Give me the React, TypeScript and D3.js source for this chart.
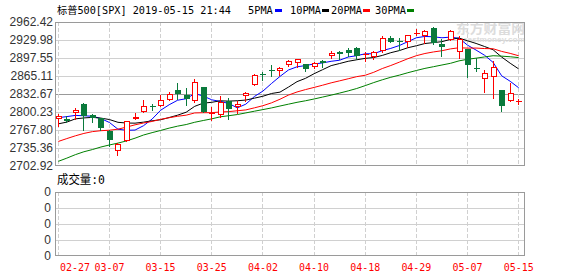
import React from 'react';
import * as d3 from 'd3';

const title = '标普500[SPX] 2019-05-15 21:44';
const volLabel = '成交量:0';

const dates = ['02-27','02-28','03-01','03-04','03-05','03-06','03-07','03-08','03-11','03-12','03-13','03-14','03-15','03-18','03-19','03-20','03-21','03-22','03-25','03-26','03-27','03-28','03-29','04-01','04-02','04-03','04-04','04-05','04-08','04-09','04-10','04-11','04-12','04-15','04-16','04-17','04-18','04-22','04-23','04-24','04-25','04-26','04-29','04-30','05-01','05-02','05-03','05-06','05-07','05-08','05-09','05-10','05-13','05-14','05-15'];
const opens = [2787.50,2788.11,2798.22,2814.37,2794.41,2790.27,2766.53,2730.79,2747.61,2787.34,2799.78,2810.38,2810.79,2822.61,2840.76,2831.34,2819.72,2844.52,2796.01,2795.00,2819.72,2809.40,2828.27,2848.63,2868.24,2876.09,2873.99,2884.16,2888.46,2886.58,2881.37,2891.92,2900.86,2908.32,2912.26,2916.04,2904.81,2898.78,2909.99,2934.00,2928.99,2925.81,2940.58,2937.14,2952.33,2922.16,2929.21,2908.89,2913.03,2879.61,2859.84,2863.10,2840.19,2820.12,2820.38];
const highs = [2795.76,2793.73,2808.02,2816.88,2796.44,2790.27,2767.25,2744.13,2784.00,2798.32,2821.24,2815.00,2830.73,2835.41,2852.42,2843.54,2860.31,2846.16,2809.79,2829.87,2825.56,2819.71,2836.03,2869.40,2872.90,2885.25,2881.28,2893.24,2895.95,2886.88,2889.71,2893.42,2910.54,2909.60,2916.06,2918.00,2908.40,2909.51,2936.31,2936.83,2933.10,2939.88,2949.52,2948.22,2954.13,2931.68,2947.85,2937.32,2913.03,2897.96,2875.97,2891.31,2840.19,2852.54,2824.50];
const lows = [2775.13,2782.51,2787.38,2767.66,2782.97,2768.69,2739.09,2722.27,2747.61,2786.73,2799.78,2803.46,2810.79,2821.99,2823.27,2812.43,2817.38,2800.47,2785.02,2792.00,2787.72,2798.77,2819.23,2848.63,2858.75,2865.17,2867.14,2882.99,2880.78,2873.33,2879.13,2881.99,2898.37,2896.48,2900.71,2895.45,2891.90,2896.35,2908.53,2926.05,2912.84,2917.56,2939.35,2924.11,2923.36,2900.50,2929.21,2898.21,2862.60,2873.28,2836.40,2825.39,2801.43,2820.12,2815.10];
const closes = [2792.36,2784.49,2803.69,2792.81,2789.65,2771.45,2748.93,2743.07,2783.30,2791.52,2810.92,2808.48,2822.48,2832.94,2832.57,2824.23,2854.88,2800.71,2798.36,2818.46,2805.37,2815.44,2834.40,2867.19,2867.24,2873.40,2879.39,2892.74,2895.77,2878.20,2888.21,2888.32,2907.41,2905.58,2907.06,2900.45,2905.03,2907.97,2933.68,2927.25,2926.17,2939.88,2943.03,2945.83,2923.73,2917.52,2945.64,2932.47,2884.05,2879.42,2870.72,2881.40,2811.87,2834.41,2820.90];
// closes of the 30 sessions before the first visible one (needed for the moving averages)
const priorCloses = [2582.61,2610.30,2616.10,2635.96,2670.71,2632.90,2638.70,2642.33,2664.76,2643.85,2640.00,2681.05,2704.10,2706.53,2724.87,2737.70,2731.61,2706.05,2707.88,2709.80,2744.73,2753.03,2745.73,2775.60,2779.76,2784.70,2774.88,2792.67,2796.11,2793.90];

const yTickLabels = ['2962.42','2929.98','2897.55','2865.11','2832.67','2800.23','2767.80','2735.36','2702.92'];
const xTickLabels = ['02-27','03-07','03-15','03-25','04-02','04-10','04-18','04-29','05-07','05-15'];
const volTickLabels = ['0','0','0','0','0'];
const maPeriods = [5, 10, 20, 30];
const maNames = ['5PMA', '10PMA', '20PMA', '30PMA'];
const maColors = ['#0000ff', '#000000', '#ff0000', '#008000'];

const UP = '#ff0000';
const DOWN = '#0a7a3c';
const GRID = '#d0d0d0';
const FRAME = '#9a9a9a';

export default function App() {
  const W = 578, H = 276;
  const L = 55, R = 525, T = 22, B = 166;
  const vT = 192, vB = 256;

  const x = d3.scaleLinear().domain([0, dates.length - 1]).range([58.3, 518.7]);
  const yVals = yTickLabels.map(Number);
  const y = d3.scaleLinear().domain([d3.min(yVals)!, d3.max(yVals)!]).range([B, T]);
  const vy = d3.scaleLinear().domain([0, volTickLabels.length - 1]).range([vT, vB]);

  const all = [...priorCloses, ...closes];
  const p0 = priorCloses.length;
  const maSeries = maPeriods.map((n) =>
    closes.map((_, i) => d3.mean(all.slice(p0 + i - n + 1, p0 + i + 1))!)
  );
  const line = d3.line<number>().x((_, i) => x(i)).y((d) => y(d));

  const crisp = (v: number) => Math.round(v) + 0.5;
  const tickIdx = xTickLabels.map((t) => dates.indexOf(t));

  const mono = "'DejaVu Sans Mono','Noto Sans CJK SC',monospace";
  const sans = "'Liberation Sans','DejaVu Sans',sans-serif";

  const legendText = [248, 290, 331, 375];
  const legendRect = [275, 322, 363, 407];

  return (
    <svg width={W} height={H} style={{ position: 'absolute', left: 0, top: 0, background: '#fff' }}>
      {/* title + legend */}
      <text x={57} y={14} fontFamily={mono} fontSize={10} textLength={174} lengthAdjust="spacingAndGlyphs" fill="#000">{title}</text>
      {maNames.map((n, k) => (
        <g key={n}>
          <text x={legendText[k]} y={14} fontFamily={mono} fontSize={10.5} textLength={n.length * 6.2} lengthAdjust="spacingAndGlyphs" fill="#000">{n}</text>
          <rect x={legendRect[k]} y={9} width={7} height={3} fill={maColors[k]} />
        </g>
      ))}

      {/* main grid */}
      {yVals.map((v, k) => (k > 0 && k < yVals.length - 1 ? (
        <line key={'h' + k} x1={L} x2={R} y1={crisp(y(v))} y2={crisp(y(v))} stroke={k === 4 ? '#999' : GRID} strokeWidth={1} shapeRendering="crispEdges" />
      ) : null))}
      {tickIdx.map((i, k) => (
        <line key={'v' + k} x1={Math.floor(x(i)) + 0.5} x2={Math.floor(x(i)) + 0.5} y1={T} y2={B} stroke={GRID} strokeDasharray="4,2" shapeRendering="crispEdges" />
      ))}

      {/* watermark */}
      <text x={456} y={33} fontFamily="'Noto Sans CJK SC',sans-serif" fontWeight={700} fontSize={13} fill="#dcdcdc" textLength={69} lengthAdjust="spacingAndGlyphs">东方财富网</text>
      <text x={463} y={42} fontFamily={sans} fontWeight={700} fontSize={7} fill="#dcdcdc" textLength={62} lengthAdjust="spacingAndGlyphs">eastmoney.com</text>

      {/* moving averages */}
      {maSeries.map((s, k) => (
        <path key={'ma' + k} d={line(s)!} fill="none" stroke={maColors[k]} strokeWidth={1} />
      ))}

      {/* candles */}
      {dates.map((d, i) => {
        const o = opens[i], c = closes[i], h = highs[i], l = lows[i];
        const up = c >= o;
        const col = up ? UP : DOWN;
        const p = Math.floor(x(i));
        const wx = p + 0.5;
        const top = Math.round(y(Math.max(o, c)));
        const bot = Math.round(y(Math.min(o, c)));
        const yh = Math.round(y(h));
        const yl = Math.round(y(l));
        const doji = bot - top < 2;
        return (
          <g key={d} shapeRendering="crispEdges">
            <line x1={wx} x2={wx} y1={yh} y2={yl + 1} stroke={col} strokeWidth={1} />
            {doji ? (
              <line x1={p - 2} x2={p + 4} y1={top + 0.5} y2={top + 0.5} stroke={col} strokeWidth={1} />
            ) : up ? (
              <rect x={p - 1.5} y={top + 0.5} width={5} height={bot - top - 1} fill="#fff" stroke={col} strokeWidth={1} />
            ) : (
              <rect x={p - 2} y={top} width={6} height={bot - top} fill={col} />
            )}
          </g>
        );
      })}

      {/* main frame */}
      <rect x={L + 0.5} y={T + 0.5} width={R - L - 1} height={B - T - 1} fill="none" stroke={FRAME} strokeWidth={1.5} shapeRendering="crispEdges" />

      {/* y labels */}
      {yTickLabels.map((t, k) => (
        <text key={'yl' + k} x={53} y={y(yVals[k])} dy="0.36em" textAnchor="end" fontFamily={sans} fontSize={12} fill="#333">{t}</text>
      ))}

      {/* volume panel */}
      <text x={57} y={184} fontFamily={mono} fontSize={12} textLength={48} lengthAdjust="spacingAndGlyphs" fill="#000">{volLabel}</text>
      {volTickLabels.map((t, k) => (k > 0 && k < volTickLabels.length - 1 ? (
        <line key={'vh' + k} x1={L} x2={R} y1={crisp(vy(k))} y2={crisp(vy(k))} stroke={GRID} shapeRendering="crispEdges" />
      ) : null))}
      {tickIdx.map((i, k) => (
        <line key={'vv' + k} x1={Math.floor(x(i)) + 0.5} x2={Math.floor(x(i)) + 0.5} y1={vT} y2={vB} stroke={GRID} strokeDasharray="4,2" shapeRendering="crispEdges" />
      ))}
      <rect x={L + 0.5} y={vT + 0.5} width={R - L - 1} height={vB - vT - 1} fill="none" stroke={FRAME} strokeWidth={1.5} shapeRendering="crispEdges" />
      {volTickLabels.map((t, k) => (
        <text key={'vl' + k} x={51} y={vy(k)} dy="0.36em" textAnchor="end" fontFamily={sans} fontSize={12} fill="#333">{t}</text>
      ))}

      {/* x labels */}
      {xTickLabels.map((t, k) => (
        <text key={'xl' + k} x={k === 0 ? 60 : x(tickIdx[k]) - 15} y={271} fontFamily={mono} fontSize={11} textLength={30} lengthAdjust="spacingAndGlyphs" fill="#ff0000">{t}</text>
      ))}
    </svg>
  );
}
